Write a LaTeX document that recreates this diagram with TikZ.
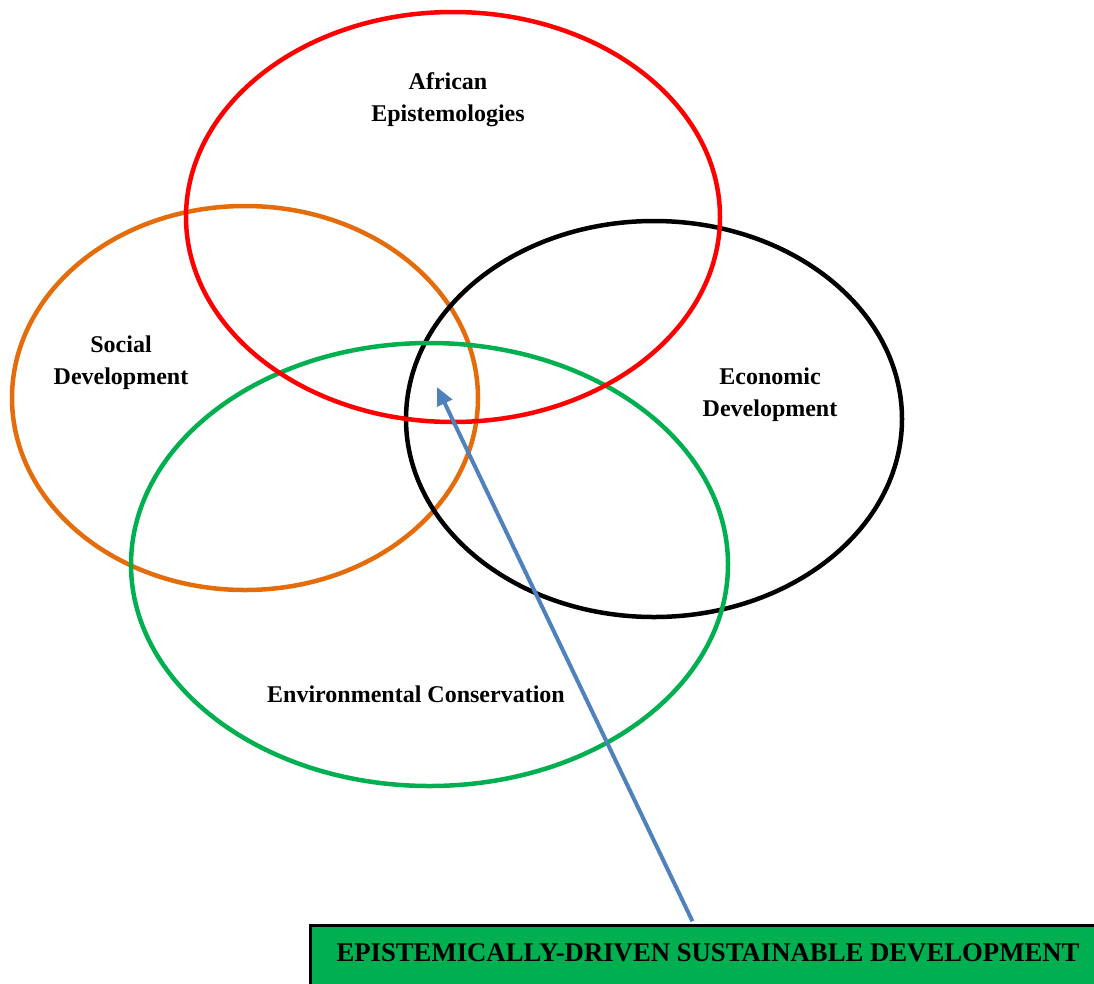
\documentclass[tikz,border=0pt]{standalone}
\usepackage{fontspec}
\setmainfont{Liberation Serif}
\usetikzlibrary{arrows.meta}

\definecolor{ringorange}{HTML}{E46C0A}
\definecolor{ringgreen}{HTML}{00B050}
\definecolor{arrowblue}{HTML}{4F81BD}

\begin{document}
\begin{tikzpicture}[x=1pt, y=-1pt]
   \tikzstyle{ring}=[line width=4.5pt]
   \tikzstyle{label}=[align=center, font=\fontsize{24}{32}\selectfont\bfseries]
   \tikzstyle{goalbox}=[draw=black, fill=ringgreen, line width=3pt, anchor=north west,
      inner xsep=26.5pt, inner ysep=18.5pt, text height=18pt, text depth=40pt,
      font=\fontsize{27}{30}\selectfont\bfseries]
   \tikzstyle{pointer}=[draw=arrowblue, line width=4pt, shorten <=2.5pt,
      -{Triangle[length=18pt,width=16pt]}]

\clip (0,0) rectangle (1094,983);

% the four circles
\draw[ring, ringorange] (245,398) ellipse [x radius=233pt, y radius=192pt];
\draw[ring, black] (654,419) ellipse [x radius=248pt, y radius=198pt];
\draw[ring, ringgreen] (429.5,564.5) ellipse [x radius=298.5pt, y radius=221.5pt];
\draw[ring, red] (453,217) ellipse [x radius=267pt, y radius=205pt];

\node[label] (african) at (448,100) {African\\Epistemologies};
\node[label] (social) at (121,363) {Social\\Development};
\node[label] (economic) at (770,395) {Economic\\Development};
\node[label] (environ) at (416,694) {Environmental Conservation};

\coordinate (core) at (437,387);
\node[goalbox] (goal) at (308.5,923.5)
   {\resizebox{743pt}{\height}{EPISTEMICALLY-DRIVEN SUSTAINABLE DEVELOPMENT}};

\draw[pointer] ([xshift=-14.5pt]goal.north) -- (core);

\end{tikzpicture}
\end{document}
